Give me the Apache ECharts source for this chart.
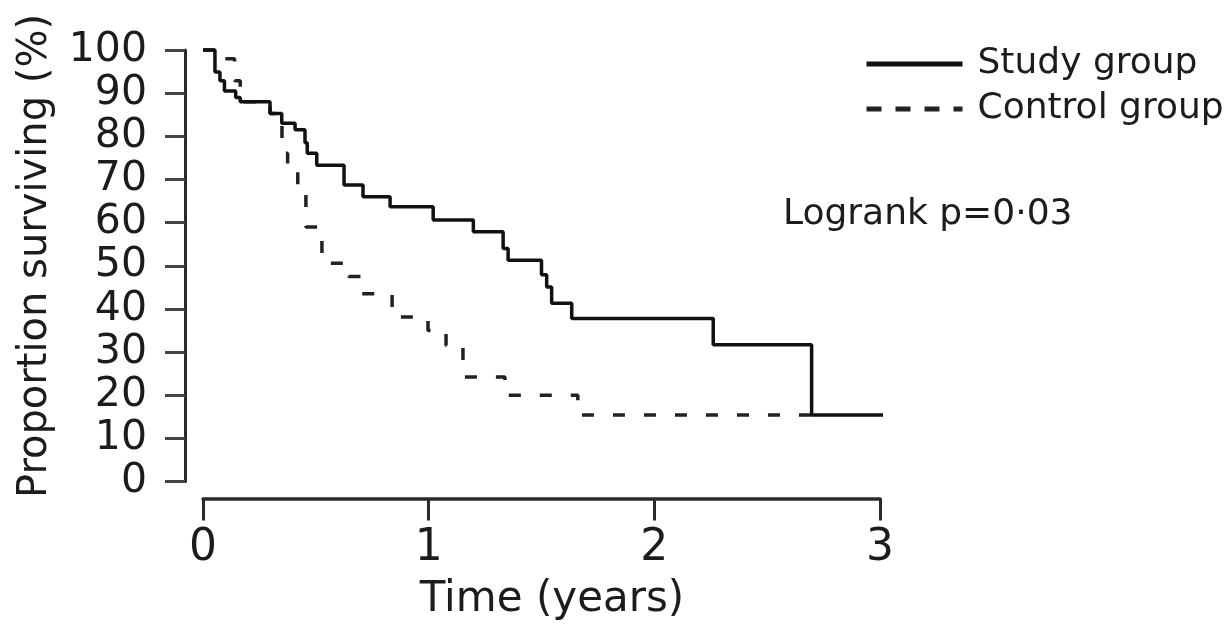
<!DOCTYPE html>
<html>
<head>
<meta charset="utf-8">
<script src="https://cdn.jsdelivr.net/npm/echarts@6/dist/echarts.min.js"></script>
<style>
  html, body { margin: 0; padding: 0; background: #fff; }
  #main { width: 1227px; height: 627px; }
</style>
</head>
<body>
<div id="main"></div>
<script>
// Kaplan-Meier steps: each point is the time (years) at which survival drops to that value (%)
var studyTime = [0, 0.053, 0.075, 0.095, 0.145, 0.165, 0.297, 0.349, 0.408, 0.452, 0.462, 0.504, 0.625, 0.709, 0.829, 1.02, 1.198, 1.33, 1.352, 1.5, 1.523, 1.545, 1.634, 2.261, 2.697, 3.125];
var studySurv = [100, 94.9, 92.9, 90.5, 89, 88, 85.3, 83, 81.5, 78.5, 76.1, 73.3, 68.7, 66, 63.7, 60.6, 57.9, 54, 51.3, 47.9, 45.1, 41.3, 37.8, 31.7, 15.4, 15.4];

var controlTime = [0, 0.066, 0.14, 0.165, 0.297, 0.35, 0.375, 0.42, 0.456, 0.527, 0.645, 0.70, 0.838, 0.997, 1.077, 1.152, 1.338, 1.661, 2.694];
var controlSurv = [100, 98, 92.9, 88, 85.3, 76.1, 73, 68.5, 59, 50.6, 47.5, 43.5, 38.1, 35, 31.5, 24.2, 20, 15.4, 15.4];

var seriesNames = ['Study group', 'Control group'];
var yMin = 0, yMax = 100, yStep = 10;
var xMin = 0, xMax = 3, xStep = 1;

function pairs(t, v) {
  return t.map(function (x, i) { return [x, v[i]]; });
}

var font = 'DejaVu Sans';
var ink = '#1c1c1c';

var chart = echarts.init(document.getElementById('main'), null, { renderer: 'canvas' });

var option = {
  animation: false,
  backgroundColor: '#fff',
  grid: { left: 203, right: 347, top: 50, bottom: 145.5, containLabel: false },
  legend: {
    orient: 'vertical',
    left: 864,
    top: 46,
    padding: 0,
    itemWidth: 96,
    itemHeight: 14,
    itemGap: 9,
    itemStyle: { opacity: 0 },
    textStyle: { fontFamily: font, fontSize: 36, color: ink, lineHeight: 36, padding: [0, 0, 0, 10] },
    data: [
      { name: seriesNames[0], lineStyle: { width: 5, color: '#111', type: 'solid' } },
      { name: seriesNames[1], lineStyle: { width: 5, color: '#222', type: [15, 14] } }
    ]
  },
  xAxis: {
    type: 'value',
    position: 'bottom',
    min: xMin, max: xMax, interval: xStep,
    offset: 17,
    splitLine: { show: false },
    axisLine: { show: true, onZero: false, lineStyle: { color: '#2a2a2a', width: 3.5 } },
    axisTick: { show: true, inside: false, interval: 0, length: 22, lineStyle: { color: '#2a2a2a', width: 3, type: 'solid' } },
    axisLabel: { fontFamily: font, fontSize: 44, color: ink, margin: 28 }
  },
  yAxis: {
    type: 'value',
    position: 'left',
    min: yMin, max: yMax, interval: yStep,
    offset: 18,
    splitLine: { show: false },
    axisLine: { show: true, onZero: false, lineStyle: { color: '#2a2a2a', width: 3 } },
    axisTick: { show: true, inside: false, length: 20, lineStyle: { color: '#444', width: 3 } },
    axisLabel: { fontFamily: font, fontSize: 41, color: ink, margin: 38 }
  },
  series: [
    {
      name: seriesNames[0],
      type: 'line',
      step: 'end',
      clip: false,
      symbol: 'none',
      z: 3,
      itemStyle: { color: '#111' },
      lineStyle: { color: '#111', width: 3.5, type: 'solid' },
      data: pairs(studyTime, studySurv)
    },
    {
      name: seriesNames[1],
      type: 'line',
      step: 'end',
      clip: false,
      symbol: 'none',
      z: 2,
      itemStyle: { color: '#222' },
      lineStyle: { color: '#222', width: 3.5, type: [12, 19] },
      data: pairs(controlTime, controlSurv)
    }
  ],
  graphic: [
    {
      type: 'text', x: 36, y: 256, rotation: Math.PI / 2, z: 0,
      style: { text: 'Proportion surviving (%)', fontFamily: font, fontSize: 40, fill: ink, textAlign: 'center', textVerticalAlign: 'middle' }
    },
    {
      type: 'text', x: 552, y: 600,
      style: { text: 'Time (years)', fontFamily: font, fontSize: 42, fill: ink, textAlign: 'center', textVerticalAlign: 'middle' }
    },
    {
      type: 'text', x: 783, y: 215,
      style: { text: 'Logrank p=0\u00b703', fontFamily: font, fontSize: 36, fill: ink, textAlign: 'left', textVerticalAlign: 'middle' }
    }
  ]
};

chart.setOption(option);
</script>
</body>
</html>
